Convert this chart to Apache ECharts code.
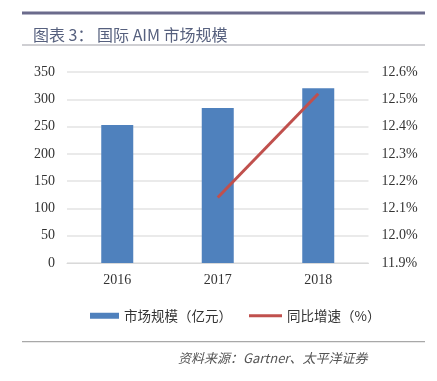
<!DOCTYPE html>
<html><head><meta charset="utf-8">
<script src="https://cdn.jsdelivr.net/npm/echarts@6/dist/echarts.min.js"></script>
<style>html,body{margin:0;padding:0;background:#fff}#c{width:437px;height:381px}</style>
</head><body><div id="c"></div>
<script>
const categories = ['2016', '2017', '2018'];
const marketSize = [253, 284, 320];
const growthRate = [null, 12.14, 12.52];
const leftTicks = [0, 350, 50];
const rightTicks = [11.9, 12.6, 0.1];

const chart = echarts.init(document.getElementById('c'));
const serif = '"Liberation Serif", "Times New Roman", serif';
const cjk = '"Noto Sans CJK SC", sans-serif';
chart.setOption({
  animation: false,
  grid: { left: 67, right: 68.5, top: 72, bottom: 118 },
  xAxis: {
    type: 'category', data: categories,
    axisLine: { show: true, lineStyle: { color: '#d9d9d9', width: 1 } },
    axisTick: { show: false },
    axisLabel: { color: '#333', fontFamily: serif, fontSize: 14, margin: 10 }
  },
  yAxis: [
    { type: 'value', min: leftTicks[0], max: leftTicks[1], interval: leftTicks[2],
      axisLine: { show: false }, axisTick: { show: false },
      splitLine: { lineStyle: { color: '#e3e3e3', width: 1.5 } },
      axisLabel: { color: '#333', fontFamily: serif, fontSize: 14, margin: 12 } },
    { type: 'value', min: rightTicks[0], max: rightTicks[1], interval: rightTicks[2],
      axisLine: { show: false }, axisTick: { show: false }, splitLine: { show: false },
      axisLabel: { color: '#333', fontFamily: serif, fontSize: 14, margin: 13,
        formatter: v => v.toFixed(1) + '%' } }
  ],
  legend: [
    { data: [{ name: '市场规模（亿元）', icon: 'rect' }], left: 85, top: 304,
      itemWidth: 29, itemHeight: 6, itemGap: 5,
      textStyle: { color: '#333', fontFamily: cjk, fontSize: 13.5 } },
    { data: [{ name: '同比增速（%）', icon: 'rect' }], left: 244, top: 304,
      itemWidth: 33, itemHeight: 3, itemGap: 3,
      textStyle: { color: '#333', fontFamily: cjk, fontSize: 13.5 } }
  ],
  series: [
    { name: '市场规模（亿元）', type: 'bar', data: marketSize, barWidth: 32,
      itemStyle: { color: '#4F81BD' } },
    { name: '同比增速（%）', type: 'line', yAxisIndex: 1, data: growthRate,
      symbol: 'none', lineStyle: { color: '#C0504D', width: 3 },
      itemStyle: { color: '#C0504D' } }
  ],
  graphic: [
    { type: 'rect', shape: { x: 22, y: 11.5, width: 403, height: 3 }, style: { fill: '#6b6b8c' } },
    { type: 'text', left: 33, top: 27, style: { text: '图表 3： 国际 AIM 市场规模', fill: '#56607e',
      font: '16px "Noto Sans CJK SC", sans-serif' } },
    { type: 'rect', shape: { x: 22, y: 44.5, width: 403, height: 1 }, style: { fill: '#a0a0a8' } },
    { type: 'rect', shape: { x: 22, y: 341, width: 403, height: 1.2 }, style: { fill: '#a8a8a8' } },
    { type: 'text', left: 178, top: 352, style: { text: '资料来源：Gartner、太平洋证券', fill: '#555',
      font: 'italic 13px "Noto Sans CJK SC", sans-serif' } }
  ]
});
</script></body></html>
